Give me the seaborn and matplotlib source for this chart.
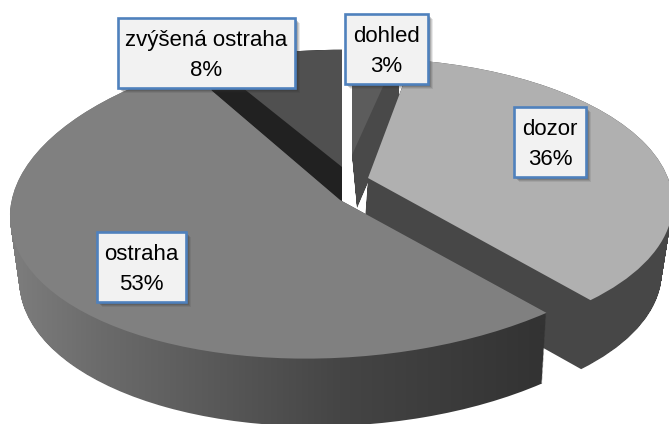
import numpy as np
import matplotlib
matplotlib.use("Agg")
import matplotlib.pyplot as plt
from matplotlib.path import Path
from matplotlib.patches import Rectangle
from matplotlib.transforms import Transform
import seaborn as sns

categories = ["dohled", "dozor", "ostraha", "zvýšená ostraha"]
values = [3, 36, 53, 8]
top_colors = ["#5c5c5c", "#b0b0b0", "#808080", "#505050"]

W, H = 669, 424

sns.set_theme(style="white")
plt.rcParams["font.family"] = ["Liberation Sans", "DejaVu Sans"]


class Warp(Transform):
    input_dims = output_dims = 2
    has_inverse = False

    def __init__(self, cx, cy, a, b, k=0.0, m=0.0, s=0.0, t=0.0):
        super().__init__()
        self.p = (cx, cy, a, b, k, m, s, t)

    def transform_non_affine(self, v):
        cx, cy, a, b, k, m, s, t = self.p
        v = np.asarray(v, float)
        x, y = v[:, 0], v[:, 1]
        w = 1 + k * y + m * x
        return np.column_stack([cx + (a * x + s * y) / w, cy + (t * x - b * y) / w])


# projection of each slice: top plane, then depth offset / scale of the bottom plane
views = {
    "dohled": dict(top=(352, 155, 280, 118, 0.16, 0, 0, 0), dx=5, dy=53, sa=0.95, dt=0),
    "dozor": dict(top=(368, 178, 300, 139, 0.16, 0, -5, 0), dx=-5, dy=69, sa=0.98, dt=0),
    "ostraha": dict(top=(340, 200, 330, 158, 0.0, 0, 5, -14), dx=1, dy=68, sa=0.975, dt=4),
    "zvýšená ostraha": dict(top=(342, 167, 310, 136, 0.16, 0, 0, 0), dx=0, dy=40, sa=1.0, dt=0),
}
# side shading: x position in pixels -> grey level
side_shades = {
    "dohled": ([0, W], [0.29, 0.29]),
    "dozor": ([0, W], [0.28, 0.28]),
    "ostraha": ([0, 100, 340, 540], [0.50, 0.42, 0.27, 0.20]),
    "zvýšená ostraha": ([0, W], [0.13, 0.13]),
}
draw_order = ["zvýšená ostraha", "dohled", "dozor", "ostraha"]
boxes = {
    "zvýšená ostraha": (118, 18, 295, 88),
    "dohled": (345, 14, 428, 84),
    "dozor": (514, 107, 586, 177),
    "ostraha": (97, 232, 186, 302),
}

fig = plt.figure(figsize=(W / 100, H / 100), dpi=100)
ax = fig.add_axes([0, 0, 1, 1])
wedges, _ = ax.pie(values, startangle=90, counterclock=False, colors=top_colors,
                   radius=1, wedgeprops=dict(linewidth=0))
ax.set_aspect("auto")
ax.set_xlim(0, W)
ax.set_ylim(H, 0)
ax.axis("off")

by_name = dict(zip(categories, wedges))
xs = np.arange(W)
for z, name in enumerate(draw_order):
    wedge = by_name[name]
    v = views[name]
    cx, cy, a, b, k, m, s, t = v["top"]
    layers = []
    for f in np.linspace(0, 1, 60):
        wp = Warp(cx + v["dx"] * f, cy + v["dy"] * f,
                  a * (1 + (v["sa"] - 1) * f), b, k, m, s, t + v["dt"] * f)
        layers.append(wp.transform_path(wedge.get_path()))
    hull = Path.make_compound_path(*layers)
    px, g = side_shades[name]
    grey = np.interp(xs, px, g)
    im = ax.imshow(np.stack([grey] * 3, axis=-1)[None, :, :],
                   extent=(0, W, H, 0), aspect="auto", zorder=2 * z + 1, interpolation="bilinear")
    im.set_clip_path(hull, ax.transData)
    wedge.set_transform(Warp(*v["top"]) + ax.transData)
    wedge.set_zorder(2 * z + 2)

ax.set_xlim(0, W)
ax.set_ylim(H, 0)

for name, val in zip(categories, values):
    x0, y0, x1, y1 = boxes[name]
    for off, al in [(5, 0.10), (4, 0.15), (3, 0.2), (2, 0.25)]:
        ax.add_patch(Rectangle((x0 + off, y0 + off), x1 - x0, y1 - y0, fc="#303030",
                               ec="none", alpha=al, zorder=20))
    ax.add_patch(Rectangle((x0, y0), x1 - x0, y1 - y0, fc="#f2f2f2", ec="#4f81bd", lw=1.9, zorder=21))
    ax.text((x0 + x1) / 2, (y0 + y1) / 2 + 2.5, f"{name}\n{val}%", ha="center", va="center",
            fontsize=16, color="black", linespacing=1.55, zorder=22)

fig.savefig("out.png", dpi=100)
